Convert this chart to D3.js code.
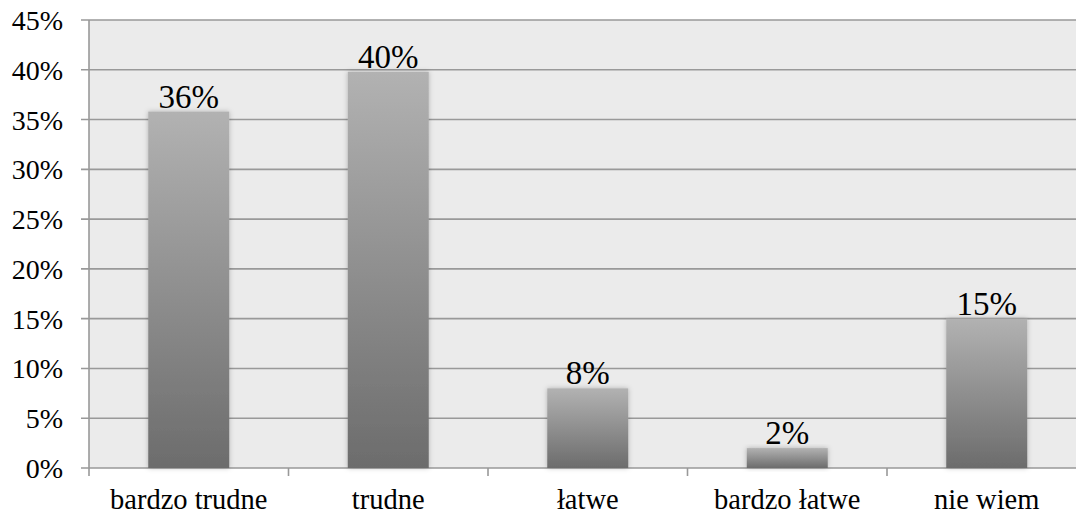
<!DOCTYPE html>
<html><head><meta charset="utf-8">
<script src="https://cdn.jsdelivr.net/npm/d3@7"></script>
<style>body{margin:0;background:#fff}svg{display:block}</style>
</head><body>
<script>
const categories = ["bardzo trudne","trudne","łatwe","bardzo łatwe","nie wiem"];
const values = [35.8, 39.8, 8.0, 2.0, 15.0];
const labels = ["36%","40%","8%","2%","15%"];
const yTicks = [0,5,10,15,20,25,30,35,40,45];

const W=1076,H=516;
const m={left:89,top:20,bottom:48};
const plotW=997.5; // extends past the window edge as in the reference
const svg=d3.select("body").append("svg").attr("width",W).attr("height",H);
const defs=svg.append("defs");
const g1=defs.append("linearGradient").attr("id","bg").attr("x1",0).attr("y1",0).attr("x2",0).attr("y2",1);
g1.append("stop").attr("offset","0%").attr("stop-color","#b2b2b2");
g1.append("stop").attr("offset","100%").attr("stop-color","#6c6c6c");
const f=defs.append("filter").attr("id","sh").attr("x","-20%").attr("y","-20%").attr("width","140%").attr("height","140%");
f.append("feDropShadow").attr("dx",0).attr("dy",0).attr("stdDeviation",2.5).attr("flood-color","#000").attr("flood-opacity",0.25);

const x=d3.scaleBand().domain(categories).range([m.left,m.left+plotW]).paddingInner(0.594).paddingOuter(0.297);
const xb=d3.scaleBand().domain(categories).range([m.left,m.left+plotW]);
const y=d3.scaleLinear().domain([0,45]).range([H-m.bottom,m.top]);

svg.append("rect").attr("x",m.left).attr("y",m.top).attr("width",plotW).attr("height",y(0)-m.top).attr("fill","#ebebeb");

svg.append("g").selectAll("line").data(yTicks).join("line")
  .attr("x1",m.left-8).attr("x2",m.left+plotW).attr("y1",d=>y(d)).attr("y2",d=>y(d))
  .attr("stroke","#999").attr("stroke-width",1.6);

svg.append("line").attr("x1",m.left).attr("x2",m.left).attr("y1",m.top).attr("y2",y(0)+8).attr("stroke","#999").attr("stroke-width",1.6);
svg.append("g").selectAll("line").data(categories.slice(1)).join("line")
  .attr("x1",d=>xb(d)).attr("x2",d=>xb(d)).attr("y1",y(0)).attr("y2",y(0)+8)
  .attr("stroke","#999").attr("stroke-width",1.6);

svg.append("g").selectAll("rect").data(categories).join("rect")
  .attr("x",d=>x(d)).attr("width",x.bandwidth())
  .attr("y",(d,i)=>y(values[i])).attr("height",(d,i)=>y(0)-y(values[i]))
  .attr("fill","url(#bg)").attr("filter","url(#sh)");

const font="'Liberation Serif', 'Times New Roman', serif";
svg.append("g").selectAll("text").data(categories).join("text")
  .attr("x",d=>x(d)+x.bandwidth()/2).attr("y",(d,i)=>y(values[i])-4)
  .attr("text-anchor","middle").attr("font-family",font).attr("font-size",33).attr("fill","#000")
  .text((d,i)=>labels[i]);

svg.append("g").selectAll("text").data(yTicks).join("text")
  .attr("x",63).attr("y",d=>y(d)+10).attr("text-anchor","end")
  .attr("font-family",font).attr("font-size",28).attr("fill","#000").text(d=>d+"%");

svg.append("g").selectAll("text").data(categories).join("text")
  .attr("x",d=>xb(d)+xb.bandwidth()/2).attr("y",509).attr("text-anchor","middle")
  .attr("font-family",font).attr("font-size",28.5).attr("fill","#000").text(d=>d);
</script>
</body></html>
